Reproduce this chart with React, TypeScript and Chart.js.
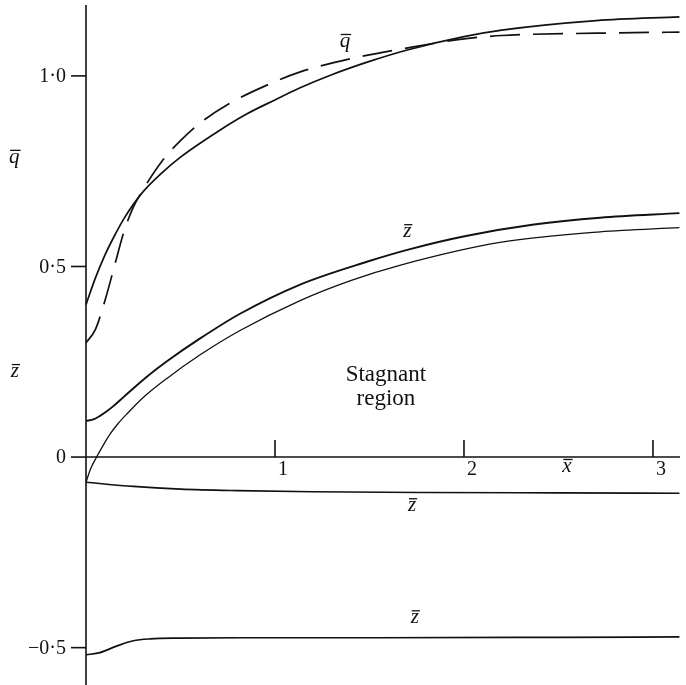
import React, { useEffect, useRef } from "react";
import { Chart, registerables } from "chart.js";

Chart.register(...registerables);

// ---- data ----
const qSolidX = [0, 0.05, 0.1, 0.15, 0.2, 0.3, 0.4, 0.5, 0.7, 0.85, 1.0, 1.13, 1.3, 1.5, 1.7, 2.0, 2.2, 2.7, 3.14];
const qSolidY = [0.4, 0.47, 0.53, 0.58, 0.625, 0.695, 0.745, 0.787, 0.855, 0.9, 0.937, 0.968, 1.003, 1.038, 1.068, 1.103, 1.12, 1.145, 1.155];

const qDashX = [0, 0.05, 0.1, 0.15, 0.2, 0.25, 0.3, 0.4, 0.5, 0.6, 0.75, 1.0, 1.13, 1.4, 1.73, 2.0, 2.2, 2.7, 3.14];
const qDashY = [0.3, 0.335, 0.41, 0.5, 0.59, 0.655, 0.7, 0.775, 0.83, 0.875, 0.925, 0.985, 1.01, 1.045, 1.076, 1.097, 1.106, 1.112, 1.115];

const zUpperX = [0, 0.04, 0.074, 0.11, 0.143, 0.2, 0.25, 0.33, 0.43, 0.6, 0.815, 1.13, 1.49, 1.71, 2.01, 2.37, 2.72, 3.14];
const zUpperY = [0.095, 0.099, 0.108, 0.12, 0.133, 0.158, 0.18, 0.214, 0.252, 0.31, 0.376, 0.452, 0.513, 0.545, 0.58, 0.61, 0.628, 0.64];

const zLowerX = [0, 0.025, 0.056, 0.09, 0.127, 0.17, 0.22, 0.3, 0.43, 0.6, 0.815, 1.13, 1.4, 1.66, 2.19, 2.72, 3.14];
const zLowerY = [-0.066, -0.03, 0, 0.03, 0.06, 0.088, 0.115, 0.155, 0.207, 0.267, 0.332, 0.41, 0.463, 0.503, 0.563, 0.591, 0.602];

const zMidX = [0, 0.25, 0.5, 0.8, 1.2, 1.8, 2.5, 3.14];
const zMidY = [-0.066, -0.077, -0.084, -0.088, -0.091, -0.093, -0.094, -0.095];

const zBotX = [0, 0.074, 0.162, 0.25, 0.34, 0.5, 0.815, 1.5, 2.5, 3.14];
const zBotY = [-0.519, -0.513, -0.496, -0.482, -0.477, -0.475, -0.474, -0.474, -0.473, -0.472];

const yTicks = [1.0, 0.5, 0, -0.5];
const yTickLabels = ["1·0", "0·5", "0", "−0·5"];
const xTicks = [1, 2, 3];
const xTickLabels = ["1", "2", "3"];

// ---- layout / styling ----
const X_MIN = 0;
const X_MAX = 3.143;
const Y_MIN = -0.598;
const Y_MAX = 1.186;
const INK = "#111";
const SERIF = "'Liberation Serif', 'DejaVu Serif', serif";

type Ann = { text: string; x: number; y: number; bar?: boolean; italic?: boolean; size: number };
const annotations: Ann[] = [
  { text: "q", x: -0.379, y: 0.772, bar: true, italic: true, size: 21 },
  { text: "z", x: -0.376, y: 0.21, bar: true, italic: true, size: 21 },
  { text: "q", x: 1.37, y: 1.076, bar: true, italic: true, size: 21 },
  { text: "z", x: 1.7, y: 0.577, bar: true, italic: true, size: 21 },
  { text: "z", x: 1.725, y: -0.142, bar: true, italic: true, size: 21 },
  { text: "z", x: 1.74, y: -0.436, bar: true, italic: true, size: 21 },
  { text: "x", x: 2.545, y: -0.039, bar: true, italic: true, size: 21 },
  { text: "Stagnant", x: 1.587, y: 0.2, size: 23 },
  { text: "region", x: 1.587, y: 0.136, size: 23 },
];

const toPts = (xs: number[], ys: number[]) => xs.map((x, i) => ({ x, y: ys[i] }));

const axesPlugin = {
  id: "paperAxes",
  afterDatasetsDraw(chart: any) {
    const { ctx, chartArea } = chart;
    const xs = chart.scales.x;
    const ys = chart.scales.y;
    const x0 = xs.getPixelForValue(0);
    const y0 = ys.getPixelForValue(0);
    ctx.save();
    ctx.strokeStyle = INK;
    ctx.fillStyle = INK;
    ctx.lineWidth = 1.6;
    ctx.lineCap = "butt";
    ctx.beginPath();
    ctx.moveTo(x0, chartArea.top);
    ctx.lineTo(x0, chartArea.bottom);
    ctx.stroke();
    ctx.beginPath();
    ctx.moveTo(x0, y0);
    ctx.lineTo(chartArea.right, y0);
    ctx.stroke();
    ctx.font = `20px ${SERIF}`;
    ctx.textAlign = "right";
    ctx.textBaseline = "middle";
    yTicks.forEach((v, i) => {
      const py = ys.getPixelForValue(v);
      ctx.beginPath();
      ctx.moveTo(x0 - 15, py);
      ctx.lineTo(x0, py);
      ctx.stroke();
      ctx.fillText(yTickLabels[i], x0 - 20, py + 1);
    });
    ctx.textAlign = "left";
    ctx.textBaseline = "alphabetic";
    xTicks.forEach((v, i) => {
      const px = xs.getPixelForValue(v);
      ctx.beginPath();
      ctx.moveTo(px, y0 - 17);
      ctx.lineTo(px, y0);
      ctx.stroke();
      ctx.fillText(xTickLabels[i], px + 3, y0 + 18);
    });
    ctx.textAlign = "center";
    annotations.forEach((a) => {
      const px = xs.getPixelForValue(a.x);
      const py = ys.getPixelForValue(a.y);
      ctx.font = `${a.italic ? "italic " : ""}${a.size}px ${SERIF}`;
      ctx.fillText(a.text, px, py);
      if (a.bar) {
        const w = ctx.measureText(a.text).width;
        const top = py - a.size * 0.45 - 3;
        ctx.lineWidth = 1.3;
        ctx.beginPath();
        ctx.moveTo(px - w / 2 + 1, top);
        ctx.lineTo(px + w / 2 + 1, top);
        ctx.stroke();
      }
    });
    ctx.restore();
  },
};

export default function App() {
  const ref = useRef<HTMLCanvasElement>(null);
  useEffect(() => {
    document.body.style.margin = "0";
    const canvas = ref.current;
    if (!canvas) return;
    const line = (xs: number[], ys: number[], width: number, dash: number[] = []) => ({
      data: toPts(xs, ys),
      showLine: true,
      borderColor: INK,
      backgroundColor: INK,
      borderWidth: width,
      borderDash: dash,
      pointRadius: 0,
      pointHoverRadius: 0,
      cubicInterpolationMode: "monotone" as const,
      fill: false,
      clip: false as any,
    });
    const chart = new Chart(canvas, {
      type: "scatter",
      data: {
        datasets: [
          line(qSolidX, qSolidY, 1.7),
          line(qDashX, qDashY, 1.7, [30, 13]),
          line(zUpperX, zUpperY, 1.9),
          line(zLowerX, zLowerY, 1.3),
          line(zMidX, zMidY, 1.6),
          line(zBotX, zBotY, 1.7),
        ],
      },
      options: {
        responsive: false,
        animation: false,
        events: [],
        layout: { padding: { left: 86, right: 6, top: 5, bottom: 0 } },
        plugins: { legend: { display: false }, tooltip: { enabled: false } },
        scales: {
          x: { type: "linear", min: X_MIN, max: X_MAX, display: false },
          y: { type: "linear", min: Y_MIN, max: Y_MAX, display: false },
        },
      },
      plugins: [axesPlugin],
    });
    return () => chart.destroy();
  }, []);
  return (
    <div style={{ width: 686, height: 685, background: "#fff" }}>
      <canvas ref={ref} width={686} height={685} style={{ display: "block" }} />
    </div>
  );
}
